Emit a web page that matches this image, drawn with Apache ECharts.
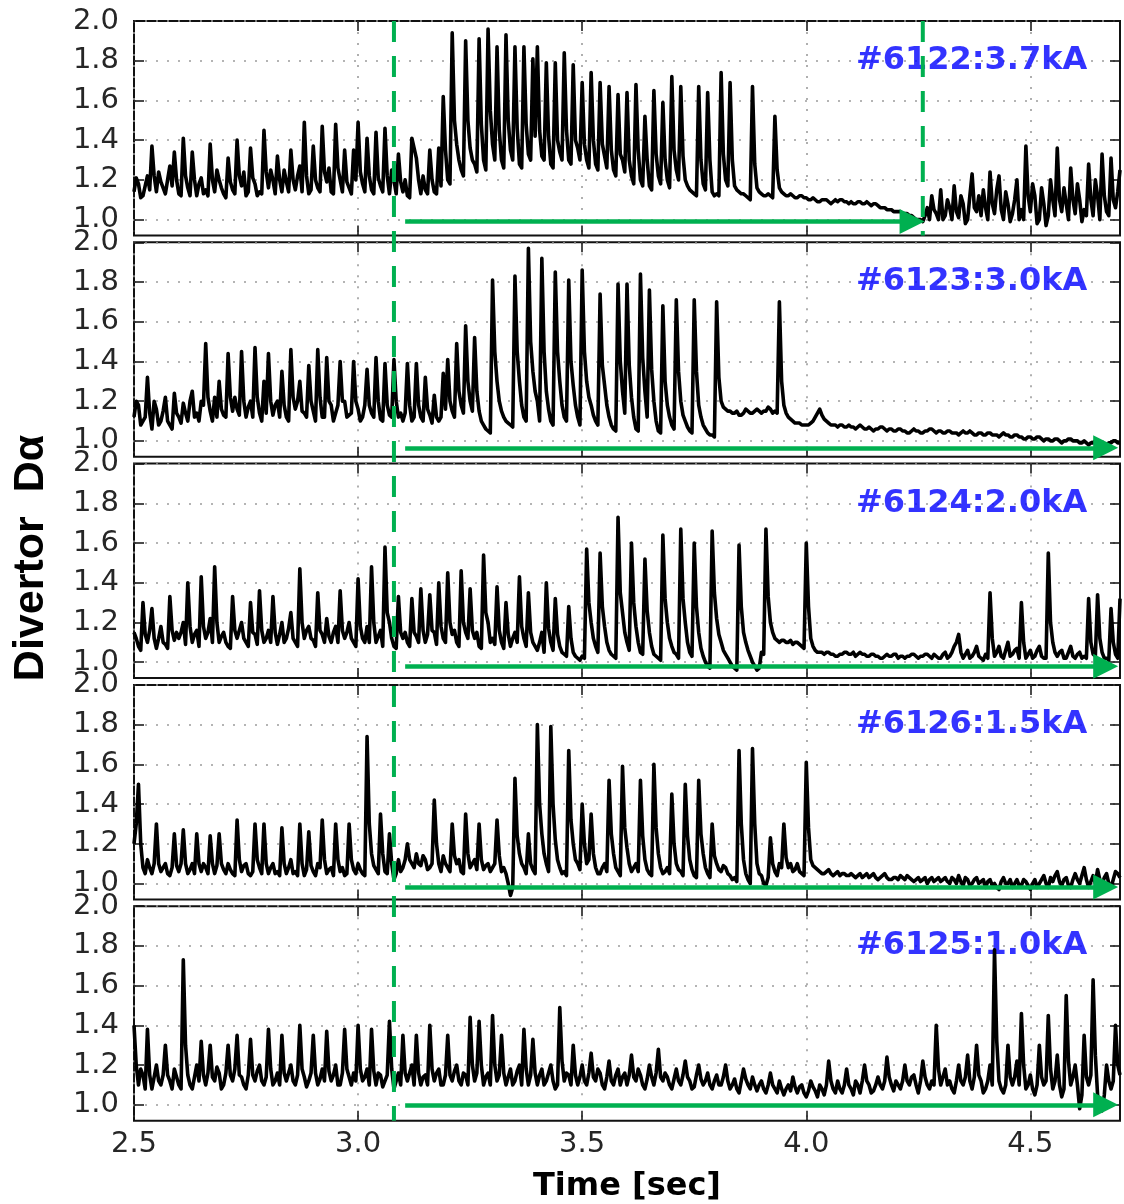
<!DOCTYPE html>
<html>
<head>
<meta charset="utf-8">
<script src="https://cdn.jsdelivr.net/npm/echarts@6/dist/echarts.min.js"></script>
<style>
html,body{margin:0;padding:0;background:#fff;}
#c{width:1124px;height:1204px;}
</style>
</head>
<body>
<div id="c"></div>
<script>
// ---------------- data ----------------
// each trace: samples at 2.50, 2.51, ... 4.70 s (daXXXX) and the in-between
// samples at 2.505, 2.515, ... 4.695 s (daXXXXh)
const tStart = 2.5;
const tStep = 0.01;
const xTicks = [2.5, 3.0, 3.5, 4.0, 4.5];
const yTicks = [1.0, 1.2, 1.4, 1.6, 1.8, 2.0];
const shotLabels = ['#6122:3.7kA', '#6123:3.0kA', '#6124:2.0kA', '#6126:1.5kA', '#6125:1.0kA'];

const da6122 = [
1.14,1.18,1.12,1.22,1.37,1.14,1.19,1.13,1.27,1.34,
1.13,1.41,1.16,1.34,1.12,1.21,1.15,1.38,1.14,1.20,
1.13,1.31,1.15,1.40,1.17,1.12,1.36,1.18,1.14,1.45,
1.16,1.20,1.32,1.14,1.19,1.35,1.15,1.27,1.49,1.13,
1.37,1.16,1.47,1.19,1.14,1.48,1.20,1.35,1.16,1.35,
1.49,1.18,1.41,1.15,1.44,1.17,1.46,1.13,1.20,1.33,
1.14,1.12,1.41,1.31,1.13,1.15,1.35,1.14,1.36,1.62,
1.20,1.94,1.38,1.25,1.90,1.36,1.28,1.91,1.30,1.96,
1.38,1.87,1.30,1.93,1.35,1.87,1.28,1.87,1.33,1.81,
1.87,1.32,1.79,1.28,1.79,1.34,1.84,1.30,1.78,1.36,
1.69,1.30,1.74,1.28,1.69,1.32,1.67,1.25,1.63,1.30,
1.64,1.22,1.68,1.20,1.52,1.17,1.65,1.22,1.59,1.20,
1.72,1.25,1.67,1.20,1.15,1.13,1.67,1.18,1.64,1.14,
1.13,1.74,1.20,1.69,1.17,1.14,1.13,1.11,1.67,1.16,
1.13,1.12,1.12,1.52,1.16,1.13,1.12,1.12,1.11,1.12,
1.11,1.10,1.10,1.09,1.10,1.09,1.09,1.09,1.10,1.09,
1.09,1.08,1.09,1.08,1.08,1.08,1.07,1.06,1.05,1.05,
1.04,1.04,1.03,1.02,1.01,1.00,0.99,1.06,1.12,1.03,
1.15,1.02,1.06,1.17,1.01,1.08,1.00,1.23,1.04,1.02,
1.06,1.24,1.03,1.22,1.00,1.08,1.03,1.20,1.05,1.37,
1.04,1.12,1.00,1.08,1.02,1.10,1.36,1.04,1.08,1.26,
1.03,1.10,1.05,1.28,1.02,1.12,1.33,1.04,1.31,1.06,1.25
];
const da6122h = [
1.21,1.11,1.17,1.15,1.22,1.24,1.16,1.20,1.17,1.20,
1.12,1.22,1.12,1.20,1.18,1.13,1.12,1.20,1.25,1.16,
1.11,1.19,1.13,1.22,1.24,1.14,1.21,1.12,1.13,1.24,
1.25,1.13,1.20,1.25,1.14,1.20,1.22,1.14,1.22,1.15,
1.20,1.14,1.24,1.26,1.13,1.26,1.14,1.19,1.13,1.20,
1.24,1.14,1.22,1.13,1.21,1.14,1.22,1.25,1.13,1.19,
1.20,1.11,1.36,1.20,1.22,1.13,1.20,1.13,1.17,1.35,
1.18,1.50,1.30,1.22,1.50,1.30,1.24,1.48,1.25,1.55,
1.30,1.45,1.26,1.50,1.30,1.46,1.26,1.48,1.30,1.42,
1.45,1.30,1.42,1.26,1.40,1.30,1.45,1.28,1.40,1.30,
1.38,1.26,1.40,1.25,1.38,1.26,1.35,1.22,1.33,1.24,
1.30,1.18,1.35,1.17,1.30,1.15,1.33,1.18,1.30,1.16,
1.35,1.20,1.32,1.17,1.14,1.12,1.30,1.15,1.30,1.12,
1.12,1.33,1.17,1.30,1.15,1.13,1.12,1.10,1.28,1.14,
1.12,1.13,1.11,1.25,1.14,1.12,1.13,1.11,1.12,1.11,
1.10,1.11,1.09,1.10,1.10,1.08,1.10,1.10,1.09,1.08,
1.08,1.09,1.08,1.09,1.07,1.08,1.06,1.06,1.05,1.04,
1.04,1.03,1.03,1.02,1.00,1.00,1.02,1.00,1.05,1.00,
1.00,1.10,1.00,1.04,1.12,0.98,1.12,1.06,1.12,1.15,
1.00,1.08,1.15,1.05,1.14,0.99,1.10,1.00,1.00,1.12,
1.18,0.98,1.16,0.97,1.20,1.02,1.10,1.16,1.00,1.10,
1.18,0.99,1.02,1.10,1.20,1.00,1.12,1.02,1.10,1.14
];
const da6123 = [
1.12,1.18,1.10,1.32,1.06,1.16,1.10,1.22,1.08,1.24,
1.12,1.19,1.10,1.25,1.14,1.20,1.49,1.15,1.22,1.30,
1.13,1.44,1.15,1.16,1.45,1.12,1.20,1.47,1.14,1.30,
1.44,1.13,1.20,1.35,1.12,1.46,1.16,1.30,1.14,1.38,
1.15,1.46,1.12,1.42,1.18,1.14,1.40,1.20,1.13,1.40,
1.16,1.12,1.36,1.14,1.42,1.11,1.39,1.13,1.41,1.12,
1.10,1.39,1.10,1.39,1.12,1.32,1.13,1.23,1.10,1.34,
1.41,1.15,1.49,1.18,1.58,1.20,1.52,1.15,1.08,1.05,
1.81,1.30,1.15,1.10,1.08,1.83,1.30,1.12,1.97,1.35,
1.20,1.92,1.25,1.10,1.85,1.30,1.12,1.81,1.28,1.12,
1.86,1.30,1.18,1.10,1.74,1.28,1.12,1.06,1.79,1.25,
1.79,1.22,1.06,1.84,1.25,1.76,1.20,1.05,1.68,1.18,
1.08,1.71,1.20,1.10,1.05,1.71,1.18,1.08,1.04,1.03,
1.70,1.20,1.16,1.15,1.14,1.13,1.14,1.15,1.14,1.16,
1.14,1.15,1.16,1.15,1.70,1.18,1.12,1.10,1.09,1.08,
1.08,1.09,1.12,1.16,1.11,1.09,1.08,1.07,1.08,1.07,
1.07,1.06,1.08,1.06,1.07,1.05,1.06,1.07,1.05,1.06,
1.05,1.06,1.05,1.04,1.06,1.05,1.04,1.05,1.06,1.04,
1.05,1.04,1.05,1.04,1.03,1.05,1.04,1.04,1.03,1.04,
1.03,1.04,1.03,1.02,1.04,1.03,1.02,1.03,1.02,1.01,
1.02,1.01,1.02,1.00,1.01,1.00,1.01,0.99,1.00,1.01,
1.00,0.99,1.00,0.98,0.99,1.00,0.99,0.98,0.99,1.00,0.99
];
const da6123h = [
1.20,1.08,1.12,1.14,1.20,1.08,1.15,1.10,1.06,1.14,
1.09,1.14,1.20,1.12,1.10,1.18,1.22,1.10,1.12,1.16,
1.12,1.22,1.22,1.13,1.20,1.17,1.12,1.22,1.10,1.14,
1.20,1.18,1.12,1.18,1.10,1.22,1.20,1.15,1.12,1.20,
1.10,1.22,1.12,1.20,1.10,1.18,1.20,1.12,1.14,1.20,
1.10,1.18,1.18,1.12,1.20,1.10,1.18,1.12,1.20,1.14,
1.14,1.18,1.12,1.18,1.10,1.16,1.09,1.12,1.12,1.16,
1.20,1.12,1.25,1.14,1.30,1.15,1.25,1.10,1.06,1.04,
1.45,1.20,1.12,1.09,1.07,1.45,1.18,1.10,1.50,1.25,
1.10,1.45,1.16,1.08,1.45,1.18,1.10,1.40,1.18,1.08,
1.45,1.22,1.13,1.08,1.38,1.18,1.08,1.05,1.40,1.14,
1.38,1.12,1.05,1.42,1.12,1.36,1.10,1.04,1.30,1.12,
1.06,1.35,1.13,1.07,1.04,1.35,1.12,1.06,1.03,1.02,
1.32,1.17,1.15,1.14,1.15,1.13,1.16,1.14,1.15,1.15,
1.15,1.17,1.14,1.14,1.30,1.14,1.11,1.09,1.09,1.08,
1.08,1.10,1.14,1.13,1.10,1.08,1.08,1.08,1.07,1.08,
1.07,1.07,1.07,1.06,1.06,1.06,1.07,1.06,1.06,1.05,
1.06,1.05,1.04,1.05,1.05,1.04,1.05,1.06,1.05,1.05,
1.04,1.05,1.04,1.04,1.04,1.04,1.05,1.03,1.04,1.03,
1.04,1.03,1.03,1.03,1.03,1.02,1.03,1.02,1.01,1.02,
1.01,1.02,1.01,1.01,1.00,1.01,1.00,1.00,1.01,1.00,
1.00,0.99,0.99,0.99,1.00,0.99,0.98,0.99,1.00,0.99
];
const da6124 = [
1.15,1.08,1.30,1.10,1.27,1.07,1.18,1.09,1.33,1.11,
1.12,1.20,1.40,1.10,1.16,1.43,1.12,1.22,1.48,1.10,
1.15,1.08,1.33,1.12,1.20,1.10,1.30,1.14,1.36,1.10,
1.16,1.33,1.09,1.20,1.12,1.25,1.10,1.47,1.12,1.18,
1.11,1.35,1.14,1.22,1.10,1.18,1.36,1.12,1.20,1.10,
1.42,1.12,1.18,1.48,1.10,1.16,1.58,1.20,1.08,1.33,
1.12,1.10,1.32,1.13,1.37,1.10,1.34,1.15,1.40,1.12,
1.45,1.14,1.10,1.46,1.15,1.37,1.12,1.08,1.54,1.20,
1.12,1.38,1.10,1.30,1.08,1.15,1.43,1.12,1.35,1.10,
1.06,1.15,1.40,1.10,1.32,1.08,1.04,1.28,1.05,1.02,
1.03,1.57,1.20,1.08,1.55,1.18,1.06,1.03,1.73,1.25,
1.10,1.60,1.18,1.05,1.52,1.15,1.04,1.02,1.64,1.20,
1.08,1.04,1.67,1.20,1.05,1.60,1.15,1.03,0.98,1.66,
1.22,1.10,1.04,1.00,0.97,1.59,1.15,1.06,1.00,0.96,
1.05,1.67,1.20,1.12,1.10,1.11,1.10,1.09,1.10,1.08,
1.60,1.12,1.06,1.05,1.04,1.05,1.04,1.03,1.04,1.05,
1.04,1.03,1.05,1.04,1.03,1.04,1.03,1.02,1.04,1.03,
1.04,1.03,1.02,1.03,1.04,1.02,1.03,1.04,1.02,1.03,
1.02,1.05,1.03,1.08,1.14,1.02,1.06,1.03,1.08,1.02,
1.04,1.35,1.03,1.08,1.02,1.10,1.04,1.07,1.30,1.02,
1.06,1.03,1.08,1.02,1.55,1.10,1.03,1.06,1.02,1.08,
1.02,1.05,1.03,1.32,1.04,1.34,1.05,1.02,1.27,1.04,1.32
];
const da6124h = [
1.12,1.06,1.14,1.16,1.12,1.12,1.10,1.07,1.16,1.15,
1.15,1.09,1.18,1.14,1.08,1.18,1.15,1.10,1.20,1.13,
1.10,1.07,1.16,1.16,1.12,1.08,1.15,1.09,1.16,1.12,
1.10,1.15,1.14,1.10,1.17,1.12,1.08,1.20,1.16,1.12,
1.08,1.16,1.10,1.13,1.15,1.10,1.16,1.15,1.12,1.08,
1.18,1.10,1.10,1.20,1.13,1.08,1.25,1.12,1.07,1.15,
1.15,1.08,1.15,1.10,1.16,1.14,1.16,1.09,1.18,1.10,
1.20,1.16,1.08,1.20,1.12,1.16,1.15,1.07,1.25,1.10,
1.09,1.16,1.07,1.14,1.12,1.10,1.18,1.08,1.15,1.08,
1.10,1.05,1.17,1.06,1.14,1.05,1.03,1.12,1.03,1.01,
1.02,1.30,1.12,1.05,1.28,1.10,1.04,1.02,1.35,1.15,
1.06,1.30,1.10,1.04,1.26,1.08,1.03,1.01,1.32,1.12,
1.05,1.02,1.32,1.10,1.03,1.28,1.07,1.00,0.97,1.35,
1.14,1.06,1.02,0.98,0.96,1.28,1.10,1.03,0.98,0.97,
1.04,1.33,1.15,1.11,1.11,1.10,1.11,1.10,1.09,1.07,
1.28,1.08,1.05,1.05,1.05,1.04,1.03,1.04,1.05,1.04,
1.05,1.04,1.04,1.03,1.04,1.03,1.02,1.03,1.03,1.04,
1.02,1.03,1.03,1.04,1.03,1.03,1.04,1.03,1.04,1.02,
1.04,1.02,1.05,1.10,1.05,1.04,1.02,1.05,1.03,1.01,
1.02,1.12,1.05,1.03,1.06,1.03,1.06,1.02,1.10,1.04,
1.02,1.06,1.03,1.02,1.20,1.05,1.05,1.02,1.05,1.03,
1.04,1.02,1.02,1.10,1.03,1.12,1.02,1.01,1.10,1.02
];
const da6126 = [
1.20,1.50,1.08,1.12,1.05,1.30,1.06,1.10,1.04,1.25,
1.06,1.27,1.05,1.10,1.25,1.06,1.08,1.24,1.05,1.25,
1.07,1.10,1.05,1.32,1.06,1.10,1.04,1.30,1.08,1.30,
1.05,1.10,1.06,1.28,1.05,1.12,1.06,1.30,1.04,1.26,
1.06,1.10,1.32,1.05,1.08,1.30,1.06,1.04,1.30,1.07,
1.10,1.05,1.74,1.15,1.07,1.35,1.06,1.25,1.02,1.12,
1.08,1.20,1.10,1.15,1.09,1.12,1.08,1.42,1.10,1.14,
1.08,1.30,1.10,1.06,1.35,1.08,1.12,1.30,1.07,1.10,
1.08,1.32,1.06,1.05,0.94,1.53,1.15,1.08,1.25,1.07,
1.80,1.25,1.10,1.79,1.22,1.08,1.06,1.67,1.20,1.10,
1.40,1.10,1.35,1.08,1.05,1.10,1.52,1.15,1.06,1.59,
1.18,1.06,1.10,1.52,1.12,1.05,1.60,1.15,1.05,1.08,
1.45,1.10,1.06,1.50,1.12,1.04,1.52,1.15,1.05,1.30,
1.10,1.06,1.08,1.04,1.03,1.67,1.12,1.02,1.68,1.10,
1.04,0.99,1.23,1.06,1.10,1.30,1.08,1.06,1.10,1.05,
1.61,1.12,1.08,1.06,1.05,1.07,1.04,1.06,1.05,1.04,
1.05,1.03,1.05,1.04,1.03,1.05,1.02,1.04,1.03,1.02,
1.03,1.04,1.02,1.03,1.01,1.03,1.02,1.00,1.03,1.02,
1.01,1.03,1.00,1.02,1.04,0.99,1.02,1.00,1.03,1.01,
0.98,1.02,1.00,0.97,1.03,1.00,0.98,1.02,0.99,1.01,
0.97,1.02,1.00,1.04,0.98,1.01,1.06,0.99,1.03,0.98,
1.05,1.00,1.08,0.98,1.04,1.07,0.99,1.05,0.98,1.06,1.03
];
const da6126h = [
1.30,1.20,1.05,1.08,1.10,1.10,1.08,1.05,1.08,1.09,
1.10,1.10,1.07,1.05,1.10,1.10,1.05,1.10,1.09,1.10,
1.05,1.07,1.04,1.12,1.09,1.05,1.06,1.12,1.05,1.10,
1.08,1.05,1.04,1.10,1.08,1.05,1.04,1.10,1.07,1.09,
1.04,1.08,1.12,1.07,1.04,1.12,1.08,1.05,1.12,1.05,
1.07,1.04,1.30,1.09,1.05,1.15,1.05,1.10,1.05,1.06,
1.12,1.12,1.08,1.10,1.14,1.07,1.10,1.20,1.06,1.10,
1.06,1.14,1.12,1.05,1.15,1.10,1.07,1.12,1.09,1.06,
1.10,1.14,1.08,1.00,0.98,1.24,1.10,1.05,1.10,1.05,
1.40,1.15,1.06,1.40,1.12,1.05,1.04,1.32,1.12,1.07,
1.20,1.12,1.15,1.05,1.08,1.06,1.25,1.08,1.04,1.28,
1.10,1.08,1.06,1.24,1.07,1.04,1.28,1.08,1.06,1.05,
1.20,1.07,1.04,1.24,1.07,1.03,1.25,1.08,1.03,1.14,
1.07,1.09,1.05,1.02,1.01,1.30,1.05,1.00,1.30,1.05,
1.00,1.03,1.10,1.04,1.08,1.13,1.10,1.07,1.06,1.04,
1.28,1.09,1.07,1.05,1.06,1.05,1.05,1.04,1.05,1.04,
1.04,1.04,1.03,1.05,1.04,1.03,1.03,1.05,1.02,1.03,
1.02,1.03,1.04,1.02,1.02,1.01,1.03,1.02,1.01,1.03,
1.02,1.01,1.03,1.00,1.01,1.03,0.99,1.02,1.00,1.02,
1.01,0.99,0.98,1.01,1.00,1.02,1.00,0.99,1.02,0.99,
1.00,0.98,1.02,1.00,1.03,1.04,1.01,1.02,0.99,1.02,
1.02,1.04,1.02,1.01,1.00,1.02,1.03,1.00,1.02,1.05
];
const da6125 = [
1.40,1.10,1.15,1.38,1.08,1.20,1.10,1.30,1.12,1.18,
1.10,1.73,1.15,1.08,1.20,1.32,1.10,1.30,1.12,1.16,
1.10,1.30,1.12,1.35,1.14,1.08,1.33,1.12,1.20,1.10,
1.38,1.10,1.16,1.35,1.12,1.20,1.10,1.40,1.14,1.12,
1.35,1.10,1.18,1.37,1.12,1.20,1.10,1.38,1.14,1.16,
1.40,1.12,1.18,1.38,1.10,1.15,1.12,1.42,1.08,1.16,
1.35,1.12,1.20,1.35,1.10,1.15,1.40,1.12,1.18,1.10,
1.35,1.12,1.20,1.10,1.15,1.44,1.12,1.42,1.10,1.16,
1.45,1.12,1.35,1.10,1.18,1.12,1.20,1.38,1.10,1.33,
1.10,1.18,1.12,1.20,1.08,1.49,1.12,1.15,1.30,1.10,
1.20,1.10,1.26,1.12,1.16,1.08,1.22,1.10,1.18,1.14,
1.10,1.25,1.12,1.15,1.08,1.20,1.10,1.28,1.12,1.14,
1.08,1.18,1.10,1.22,1.12,1.09,1.20,1.10,1.16,1.08,
1.15,1.10,1.20,1.08,1.13,1.06,1.18,1.10,1.14,1.07,
1.12,1.06,1.16,1.08,1.12,1.05,1.10,1.14,1.06,1.10,
1.04,1.12,1.07,1.10,1.05,1.22,1.08,1.12,1.06,1.18,
1.08,1.12,1.06,1.20,1.10,1.07,1.14,1.08,1.24,1.10,
1.12,1.08,1.20,1.10,1.15,1.06,1.22,1.10,1.12,1.40,
1.10,1.18,1.12,1.06,1.20,1.10,1.25,1.08,1.30,1.12,
1.08,1.20,1.78,1.12,1.06,1.30,1.10,1.22,1.46,1.08,
1.15,1.05,1.30,1.10,1.45,1.08,1.25,1.04,1.55,1.10,
1.20,0.98,1.35,1.10,1.63,1.05,0.97,1.20,1.08,1.40,1.15
];
const da6125h = [
1.20,1.18,1.08,1.15,1.14,1.12,1.15,1.15,1.08,1.14,
1.08,1.30,1.10,1.14,1.12,1.15,1.16,1.14,1.19,1.08,
1.16,1.15,1.18,1.15,1.10,1.15,1.15,1.17,1.12,1.14,
1.18,1.12,1.10,1.16,1.16,1.12,1.15,1.18,1.09,1.16,
1.16,1.13,1.12,1.17,1.15,1.10,1.16,1.18,1.10,1.12,
1.18,1.14,1.10,1.17,1.16,1.09,1.15,1.18,1.12,1.10,
1.16,1.16,1.10,1.16,1.14,1.10,1.18,1.16,1.10,1.15,
1.15,1.17,1.12,1.16,1.10,1.20,1.16,1.20,1.14,1.10,
1.20,1.15,1.16,1.14,1.10,1.17,1.10,1.18,1.15,1.16,
1.15,1.10,1.16,1.12,1.10,1.22,1.16,1.10,1.15,1.14,
1.12,1.16,1.14,1.18,1.10,1.14,1.12,1.15,1.10,1.16,
1.15,1.14,1.18,1.10,1.13,1.14,1.16,1.14,1.16,1.10,
1.13,1.12,1.15,1.14,1.08,1.15,1.13,1.12,1.10,1.12,
1.10,1.14,1.12,1.10,1.08,1.12,1.13,1.08,1.10,1.10,
1.08,1.10,1.10,1.06,1.08,1.08,1.07,1.09,1.09,1.06,
1.07,1.09,1.04,1.08,1.10,1.12,1.06,1.08,1.10,1.10,
1.05,1.10,1.12,1.12,1.06,1.10,1.10,1.12,1.14,1.07,
1.10,1.12,1.12,1.14,1.10,1.12,1.14,1.08,1.10,1.18,
1.14,1.10,1.08,1.12,1.12,1.14,1.12,1.14,1.15,1.06,
1.12,1.10,1.32,1.08,1.10,1.14,1.14,1.10,1.20,1.10,
1.08,1.10,1.14,1.12,1.18,1.12,1.10,1.08,1.22,1.14,
1.10,1.05,1.14,1.15,1.25,1.00,1.05,1.12,1.12,1.20
];

const onsetTime = 3.08;          // long dashed green marker
const endTime6122 = 4.26;        // second dashed marker, first panel
const arrowFrom = 3.105;         // arrow start time
const arrowHeadAt = [4.236, 4.668, 4.668, 4.668, 4.668];
const arrowLevel = [0.99, 0.965, 0.98, 0.982, 1.0];
const labelAt = [4.627, 1.8];
const yMin = 0.92, yMax = 2.0, xMin = 2.5, xMax = 4.7;

// ---------------- layout / style ----------------
const panels = [[da6122, da6122h], [da6123, da6123h], [da6124, da6124h], [da6126, da6126h], [da6125, da6125h]];
const LEFT = 134, RIGHT = 4, TOP0 = 21, PITCH = 221.3, PH = 214.5;
const GREEN = '#00b050';
const dots = { color: '#9c9c9c', width: 1.6, type: [2, 9] };
const tickStyle = { color: '#111', width: 1.5 };
const tickFont = { fontSize: 29, fontFamily: 'DejaVu Sans', color: '#262626' };
const fmt = v => Number(v).toFixed(1);

function buildPairs(main, half) {
  const out = [];
  main.forEach((v, i) => {
    const t = tStart + i * tStep;
    out.push([Number(t.toFixed(3)), v]);
    if (i < half.length) out.push([Number((t + tStep / 2).toFixed(3)), half[i]]);
  });
  return out;
}

const grid = [], xAxis = [], yAxis = [], series = [];
panels.forEach(([main, half], k) => {
  grid.push({ left: LEFT, right: RIGHT, top: TOP0 + PITCH * k, height: PH,
              show: true, borderColor: '#111', borderWidth: 2, backgroundColor: 'transparent' });
  const last = k === panels.length - 1;
  xAxis.push({
    gridIndex: k, type: 'value', min: xMin, max: xMax, interval: 0.5, position: 'bottom',
    axisLine: { show: false },
    axisTick: { show: true, inside: true, length: 10, customValues: xTicks, lineStyle: tickStyle },
    axisLabel: Object.assign({ show: last, customValues: xTicks, margin: 9, formatter: fmt }, tickFont),
    splitLine: { show: true, lineStyle: dots },
    name: last ? 'Time [sec]' : '', nameLocation: 'middle', nameGap: 50,
    nameTextStyle: { fontFamily: 'DejaVu Sans', fontWeight: 'bold', fontSize: 32, color: '#000' }
  });
  xAxis.push({
    gridIndex: k, type: 'value', min: xMin, max: xMax, interval: 0.5, position: 'top',
    axisLine: { show: false },
    axisTick: { show: true, inside: true, length: 10, customValues: xTicks, lineStyle: tickStyle },
    axisLabel: { show: false }, splitLine: { show: false }
  });
  yAxis.push({
    gridIndex: k, type: 'value', min: yMin, max: yMax, position: 'left',
    axisLine: { show: false },
    axisTick: { show: true, inside: true, length: 10, customValues: yTicks, lineStyle: tickStyle },
    axisLabel: Object.assign({ show: true, customValues: yTicks, margin: 15, formatter: fmt }, tickFont),
    splitLine: { show: true, lineStyle: dots }
  });
  yAxis.push({
    gridIndex: k, type: 'value', min: yMin, max: yMax, position: 'right',
    axisLine: { show: false },
    axisTick: { show: true, inside: true, length: 10, customValues: yTicks, lineStyle: tickStyle },
    axisLabel: { show: false }, splitLine: { show: false }
  });

  series.push({
    type: 'line', xAxisIndex: 2 * k, yAxisIndex: 2 * k, data: buildPairs(main, half),
    showSymbol: false, symbol: 'none', z: 3, silent: true,
    lineStyle: { color: '#000', width: 3.6, join: 'round' },
    markLine: {
      silent: true, animation: false, symbol: ['none', 'triangle'], symbolSize: 25,
      label: { show: false },
      lineStyle: { color: GREEN, width: 4.5, type: 'solid' },
      emphasis: { disabled: true },
      data: [[
        { coord: [arrowFrom, arrowLevel[k]] },
        { coord: [arrowHeadAt[k], arrowLevel[k]] }
      ]]
    }
  });
  series.push({
    type: 'scatter', xAxisIndex: 2 * k, yAxisIndex: 2 * k, z: 1, silent: true,
    symbolSize: 0, data: [labelAt],
    label: { show: true, position: 'left', distance: 0, formatter: () => shotLabels[k],
             color: '#0000ff', fontSize: 32, fontWeight: 'bold', fontFamily: 'DejaVu Sans' }
  });
  if (k === 0) {
    series.push({
      type: 'line', xAxisIndex: 0, yAxisIndex: 0, z: 9, silent: true,
      data: [[endTime6122, yMax], [endTime6122, yMin]], showSymbol: false, symbol: 'none',
      lineStyle: { color: GREEN, width: 4, type: [21, 14] }
    });
  }
});

// overlay grid spanning all panels for the long dashed marker
grid.push({ left: LEFT, right: RIGHT, top: TOP0, height: PITCH * 4 + PH, show: false });
xAxis.push({ gridIndex: 5, type: 'value', min: xMin, max: xMax, show: false });
yAxis.push({ gridIndex: 5, type: 'value', min: 0, max: 1, show: false });
series.push({
  type: 'line', xAxisIndex: 10, yAxisIndex: 10, z: 10, silent: true,
  data: [[onsetTime, 1], [onsetTime, 0]], showSymbol: false, symbol: 'none',
  lineStyle: { color: GREEN, width: 4, type: [21, 14] }
});

const chart = echarts.init(document.getElementById('c'), null, { renderer: 'canvas' });
chart.setOption({
  animation: false,
  backgroundColor: '#fff',
  grid, xAxis, yAxis, series,
  graphic: [{
    type: 'text', x: 31, y: 558, rotation: Math.PI / 2,
    style: { text: 'Divertor  D\u03b1', fill: '#000', font: 'bold 43px "Liberation Sans"',
             textAlign: 'center', textVerticalAlign: 'middle' }
  }]
});
</script>
</body>
</html>
